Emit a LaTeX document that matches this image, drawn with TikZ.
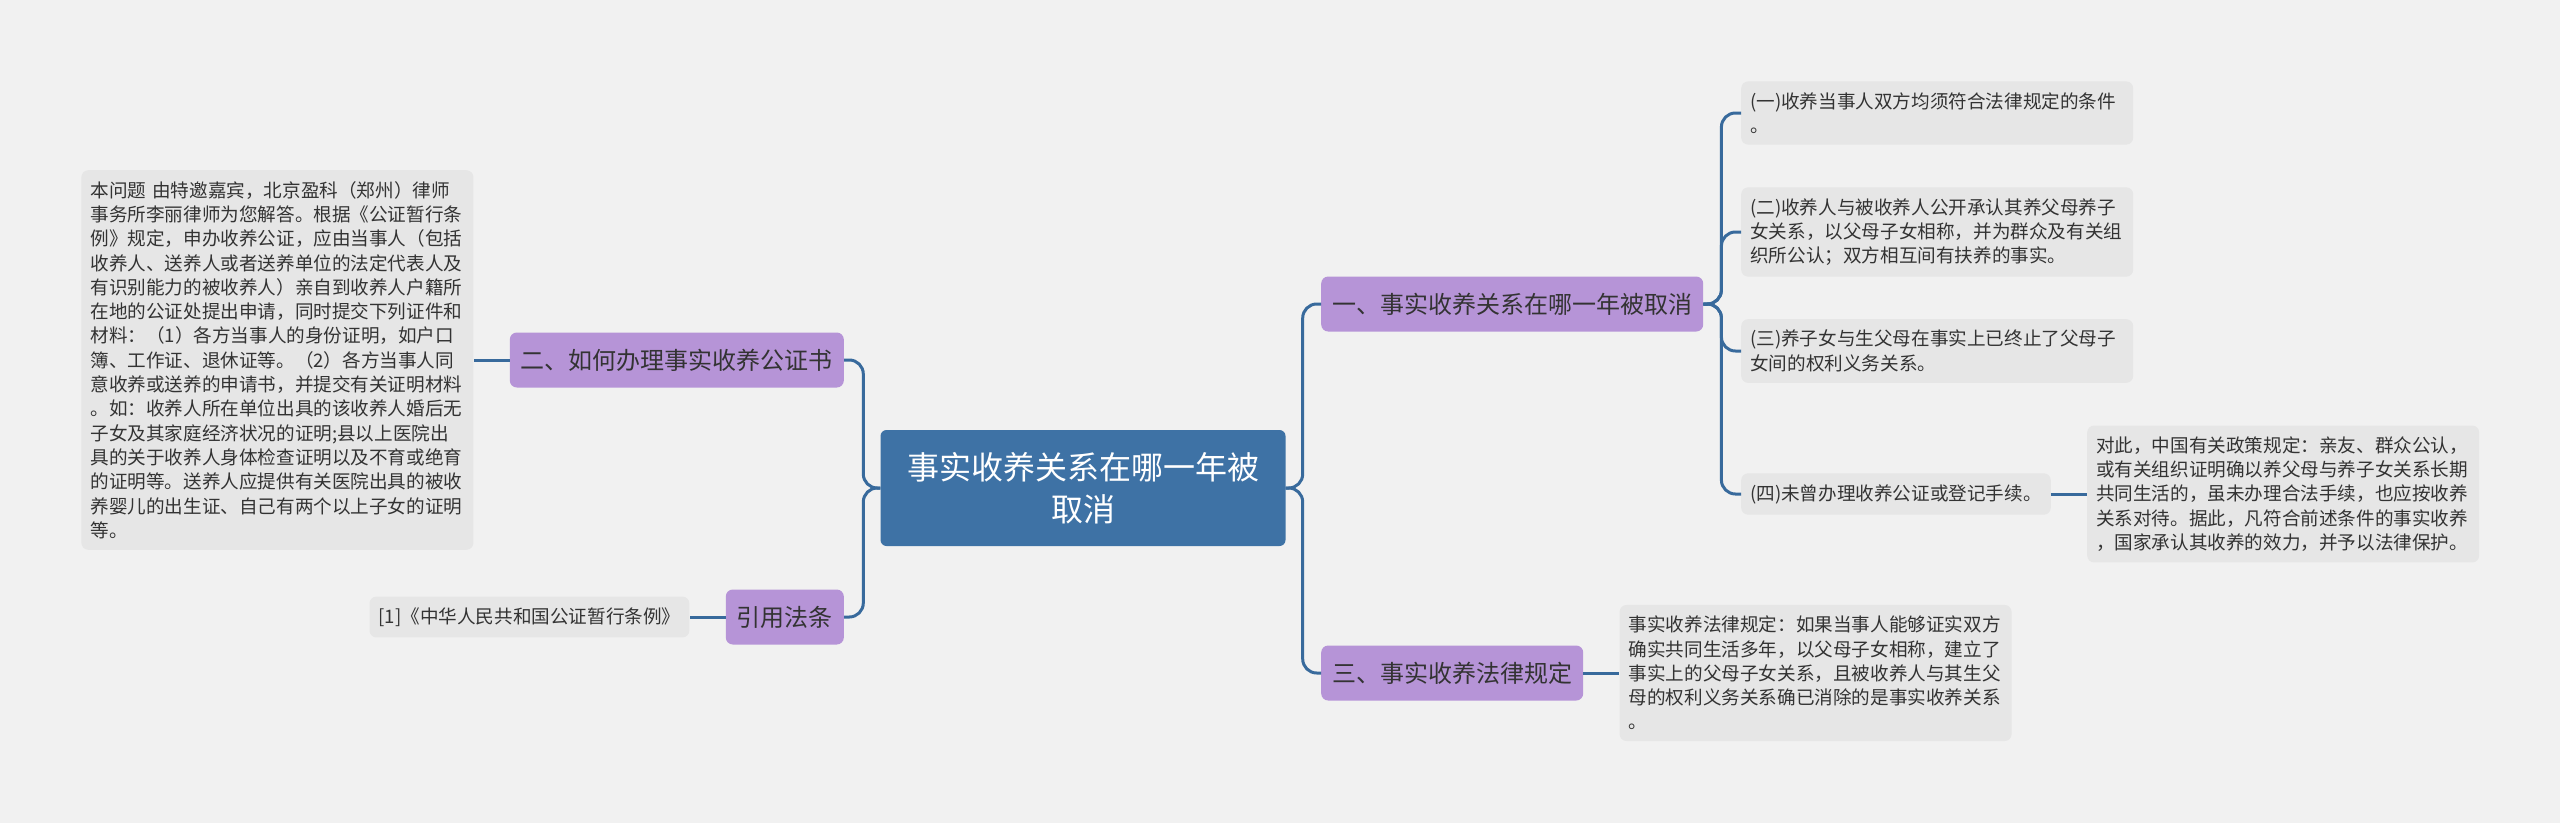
\documentclass[tikz,border=0pt]{standalone}
\usepackage{fontspec}
\newfontfamily\cjk{Noto Sans CJK SC}
\usetikzlibrary{positioning}
\definecolor{bgcol}{HTML}{F1F1F1}
\definecolor{rootcol}{HTML}{3E72A5}
\definecolor{topiccol}{HTML}{B694D7}
\definecolor{leafcol}{HTML}{E6E6E6}
\definecolor{linecol}{HTML}{386A9C}
\definecolor{txtcol}{HTML}{333333}

\begin{document}
\begin{tikzpicture}[x=1pt, y=-1pt, font=\cjk, node distance=36pt,
   root/.style={fill=rootcol, text=white, rounded corners=6pt, align=center, minimum width=405pt, minimum height=116pt, font=\cjk\fontsize{32}{42}\selectfont},
   topic/.style={fill=topiccol, text=txtcol, rounded corners=7pt, inner xsep=11pt, minimum height=55pt, font=\cjk\fontsize{24}{30}\selectfont},
   leaf/.style={fill=leafcol, text=txtcol, rounded corners=7pt, align=left, inner xsep=9pt, inner ysep=11pt, font=\cjk\fontsize{18.6}{24.3}\selectfont},
   wide/.style={leaf, text width=374pt},
   link/.style={draw=linecol, line width=3pt, rounded corners=14pt}]
   \fill[bgcol] (0,0) rectangle (2560,823);
   \useasboundingbox (0,0) rectangle (2560,823);
   % centre and main topics
   \node[root] (root) at (1083,488) {事实收养关系在哪一年被\\取消};
   \node[topic, anchor=west] (cancel) at (1321,304) {一、事实收养关系在哪一年被取消};
   \node[topic, anchor=west] (rule) at (1321,673) {三、事实收养法律规定};
   \node[topic, anchor=east] (howto) at (844,360) {二、如何办理事实收养公证书};
   \node[topic, anchor=east] (cite) at (844,617) {引用法条};
   % conditions
   \node[wide, anchor=west] (c1) at (1741,113) {(一)收养当事人双方均须符合法律规定的条件\\。};
   \node[wide, anchor=west] (c2) at (1741,232) {(二)收养人与被收养人公开承认其养父母养子\\女关系，以父母子女相称，并为群众及有关组\\织所公认；双方相互间有扶养的事实。};
   \node[wide, anchor=west] (c3) at (1741,351) {(三)养子女与生父母在事实上已终止了父母子\\女间的权利义务关系。};
   \node[leaf, anchor=west] (c4) at (1741,494) {(四)未曾办理收养公证或登记手续。};
   \node[wide, right=of c4] (policy) {对此，中国有关政策规定：亲友、群众公认，\\或有关组织证明确以养父母与养子女关系长期\\共同生活的，虽未办理合法手续，也应按收养\\关系对待。据此，凡符合前述条件的事实收养\\，国家承认其收养的效力，并予以法律保护。};
   \node[wide, right=of rule] (law) {事实收养法律规定：如果当事人能够证实双方\\确实共同生活多年，以父母子女相称，建立了\\事实上的父母子女关系，且被收养人与其生父\\母的权利义务关系确已消除的是事实收养关系\\。};
   \node[wide, left=of howto] (answer) {本问题 由特邀嘉宾，北京盈科（郑州）律师\\事务所李丽律师为您解答。根据《公证暂行条\\例》规定，申办收养公证，应由当事人（包括\\收养人、送养人或者送养单位的法定代表人及\\有识别能力的被收养人）亲自到收养人户籍所\\在地的公证处提出申请，同时提交下列证件和\\材料：（1）各方当事人的身份证明，如户口\\簿、工作证、退休证等。（2）各方当事人同\\意收养或送养的申请书，并提交有关证明材料\\。如：收养人所在单位出具的该收养人婚后无\\子女及其家庭经济状况的证明;县以上医院出\\具的关于收养人身体检查证明以及不育或绝育\\的证明等。送养人应提供有关医院出具的被收\\养婴儿的出生证、自己有两个以上子女的证明\\等。};
   \node[leaf, left=of cite] (act) {[1]《中华人民共和国公证暂行条例》};
   % connectors
   \draw[link] (root.east) -- ++(17,0) |- (cancel.west);
   \draw[link] (root.east) -- ++(17,0) |- (rule.west);
   \draw[link] (root.west) -- ++(-17,0) |- (howto.east);
   \draw[link] (root.west) -- ++(-17,0) |- (cite.east);
   \foreach \c in {c1,c2,c3,c4}
      \draw[link] (cancel.east) -- ++(18,0) |- (\c.west);
   \draw[link] (c4) -- (policy);
   \draw[link] (rule) -- (law);
   \draw[link] (howto) -- (answer);
   \draw[link] (cite) -- (act);
\end{tikzpicture}
\end{document}
